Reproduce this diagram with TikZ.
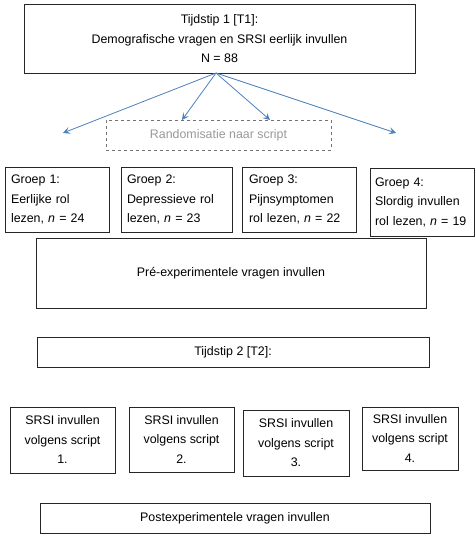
\documentclass[tikz,border=0pt]{standalone}
\usepackage{fontspec}
\setmainfont{Liberation Sans}
\usepackage{tikz}
\usetikzlibrary{positioning,arrows.meta}
\definecolor{pijlblauw}{RGB}{79,129,189}
\tikzset{
  kader/.style={draw=black!85,line width=1pt,fill=white,inner sep=2pt,font=\fontsize{12.4}{19.5}\selectfont},
  groepkader/.style={kader,align=left,text width=#1},
  scriptkader/.style={kader,align=center},
  pijl/.style={-{Stealth[length=7pt,width=7pt,inset=3pt]},draw=pijlblauw,line width=0.8pt},
}
\begin{document}
\begin{tikzpicture}[x=1pt,y=-1pt]
\useasboundingbox[fill=white] (0,0) rectangle (475,535);
% meting 1
\node[kader,align=center,minimum width=391,minimum height=68] (t1) at (219.5,39)
  {Tijdstip 1 [T1]:\\Demografische vragen en SRSI eerlijk invullen\\N = 88};
\node[kader,draw=black!55,dashed,text=black!40,minimum width=225,minimum height=30] (rand) at (218.5,135) {Randomisatie naar script};
% pijlen naar de groepen
\coordinate (bron) at (216,73);
\coordinate (p1) at (63,133);
\coordinate (p2) at (182,120);
\coordinate (p3) at (270,120);
\coordinate (p4) at (396,133);
\foreach \pp in {p1,p2,p3,p4} {\draw[pijl] (bron) -- (\pp);}
% groepen
\node[groepkader=92,minimum width=104,minimum height=65] (g1) at (57,199.5)
  {Groep 1:\\Eerlijke rol\\lezen, \textit{n} = 24};
\node[groepkader=99,minimum width=111,minimum height=65] (g2) at (176.5,199.5)
  {Groep 2:\\Depressieve rol\\lezen, \textit{n} = 23};
\node[groepkader=100,minimum width=114,minimum height=65] (g3) at (299,199.5)
  {Groep 3:\\Pijnsymptomen\\rol lezen, \textit{n} = 22};
\node[groepkader=94,minimum width=104,minimum height=68] (g4) at (422,202)
  {Groep 4:\\Slordig invullen\\rol lezen, \textit{n} = 19};
% vragenlijsten
\node[kader,minimum width=390,minimum height=70] (pre) at (231,273) {Pré-experimentele vragen invullen};
\node[kader,minimum width=392,minimum height=30] (t2) at (233,352) {Tijdstip 2 [T2]:};
% scripts
\node[scriptkader,minimum width=105,minimum height=66] (s1) at (62.5,440) {SRSI invullen\\volgens script\\1.};
\node[scriptkader,minimum width=105,minimum height=65] (s2) at (181.5,439.5) {SRSI invullen\\volgens script\\2.};
\node[scriptkader,minimum width=106,minimum height=66] (s3) at (296,443) {SRSI invullen\\volgens script\\3.};
\node[scriptkader,minimum width=96,minimum height=63] (s4) at (410,438.5) {SRSI invullen\\volgens script\\4.};
\node[kader,minimum width=390,minimum height=30] (post) at (235,518) {Postexperimentele vragen invullen};
\end{tikzpicture}
\end{document}
